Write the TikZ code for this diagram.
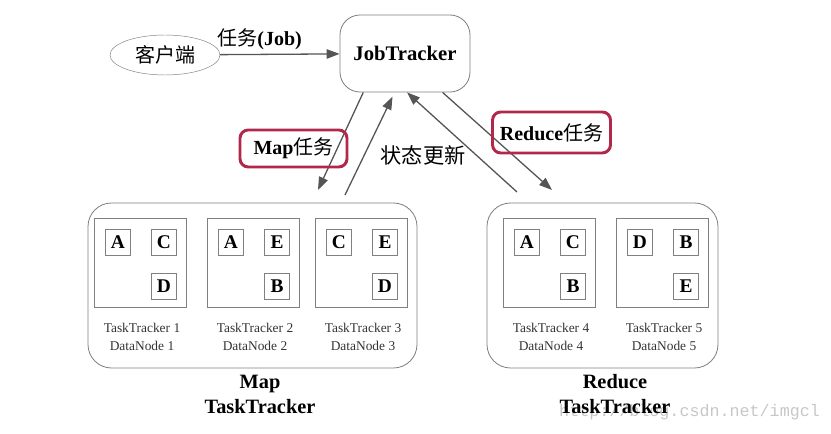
\documentclass[tikz,border=0pt]{standalone}
\usepackage{fontspec}
\setmainfont{Liberation Serif}
\newfontfamily\cjk{Noto Sans CJK SC}
\newfontfamily\markfont{Liberation Mono}
\usetikzlibrary{arrows.meta}
\usetikzlibrary{shapes.geometric}
\definecolor{boxred}{HTML}{B0284A}
\definecolor{linegray}{HTML}{555555}

\begin{document}
\begin{tikzpicture}[x=0.85pt,y=-0.85pt]
\tikzset{arr/.style={draw=linegray, line width=1.1pt, -{Triangle[length=11pt,width=8pt]}}}
\tikzset{redbox/.style={draw=boxred, line width=2.5pt, rounded corners=7pt, inner sep=0pt, font=\fontsize{17}{17}\selectfont}}
\tikzset{group/.style={draw=gray, line width=0.7pt, rounded corners=20pt, minimum height=165*0.85pt}}
\tikzset{ttbox/.style={draw=gray, line width=0.7pt, minimum width=92*0.85pt, minimum height=89*0.85pt}}
\tikzset{blk/.style={draw=gray, line width=0.7pt, minimum width=25*0.85pt, minimum height=26*0.85pt, inner sep=0pt, font=\fontsize{16.5}{16.5}\selectfont\bfseries}}
\tikzset{ttlabel/.style={align=center, font=\fontsize{11.4}{15.3}\selectfont, text=black!80}}
\tikzset{grouplabel/.style={align=center, font=\fontsize{17.3}{21.3}\selectfont\bfseries}}
\useasboundingbox (0,0) rectangle (831,434);
\node[anchor=west, inner sep=0pt, text=black!22, font=\fontsize{14.2}{14.2}\selectfont\markfont] (mark) at (559,412) {http://blog.csdn.net/imgcl};
\node[ellipse, draw=gray, minimum width=110*0.85pt, minimum height=40*0.85pt, font=\fontsize{17}{17}\selectfont\cjk] (client) at (165,55) {客户端};
\node[draw=gray, line width=0.7pt, rounded corners=17pt, minimum width=130*0.85pt, minimum height=77*0.85pt, font=\fontsize{17.6}{17.6}\selectfont\bfseries] (jobtracker) at (405,53.5) {JobTracker};
\draw[arr] (client) -- node[pos=0.33, above, inner sep=3pt, font=\fontsize{17}{17}\selectfont] (job) {{\cjk 任务}\textbf{(Job)}} (jobtracker);
\node[group, minimum width=329*0.85pt] (mapgroup) at (252.5,285.5) {};
\node[group, minimum width=231*0.85pt] (reducegroup) at (602.5,285.5) {};
\foreach \n/\x/\a/\b/\c in {1/94/A/C/D, 2/207/A/E/B, 3/315/C/E/D, 4/503/A/C/B, 5/616/D/B/E} {
  \node[ttbox] (tt\n) at (\x+46,262.5) {};
  \node[blk] (tt\n a) at (\x+24,242) {\a};
  \node[blk] (tt\n b) at (\x+70,242) {\b};
  \node[blk] (tt\n c) at (\x+70,286) {\c};
  \node[ttlabel] (dn\n) at (\x+48,337) {TaskTracker \n\\DataNode \n};
}
\node[grouplabel] (maplabel) at (260,394) {Map\\TaskTracker};
\node[grouplabel] (reducelabel) at (615,394) {Reduce\\TaskTracker};
\coordinate (mapin) at (318,190);
\coordinate (mapout) at (345,195);
\coordinate (redout) at (517,192);
\coordinate (redin) at (552,190);
\draw[arr] (jobtracker.223) -- (mapin);
\draw[arr, shorten >=4pt] (mapout) -- (jobtracker.255);
\draw[arr] (redout) -- (jobtracker.273);
\draw[arr] (jobtracker.314) -- (redin);
\node[redbox, minimum width=107*0.85pt, minimum height=37*0.85pt] (maptask) at (293.5,148.5) {\textbf{Map}{\cjk 任务}};
\node[redbox, minimum width=118*0.85pt, minimum height=41*0.85pt] (reducetask) at (551.5,132.5) {\textbf{Reduce}{\cjk 任务}};
\node[font=\fontsize{18}{18}\selectfont\cjk] (status) at (423,155) {状态更新};
\end{tikzpicture}
\end{document}
